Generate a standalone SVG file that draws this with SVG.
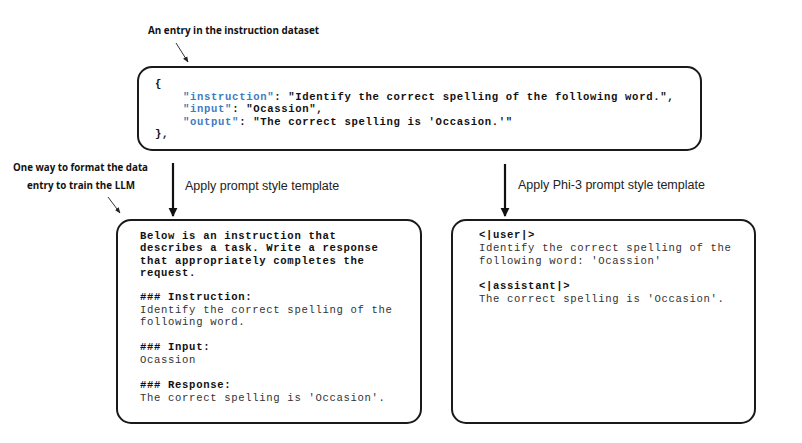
<svg xmlns="http://www.w3.org/2000/svg" width="802" height="443" viewBox="0 0 802 443">
<defs>
<marker id="big" viewBox="0 0 10 10" refX="9" refY="5" markerWidth="4" markerHeight="4.5" orient="auto" markerUnits="strokeWidth">
<path d="M0,0 L10,5 L0,10 z" fill="#111"/>
</marker>
<marker id="small" viewBox="0 0 10 10" refX="9" refY="5" markerWidth="6" markerHeight="6" orient="auto" markerUnits="strokeWidth">
<path d="M0,1 L10,5 L0,9 z" fill="#222"/>
</marker>
</defs>
<style>
.box{fill:#fff;stroke:#1a1a1a;stroke-width:2}
.mono{font-family:"Liberation Mono","Courier New",monospace;font-size:10.6px;letter-spacing:0.66px;fill:#333}
.b{font-weight:bold;fill:#111}
.r{font-weight:normal;fill:#333}
.key{fill:#3f7cc0;font-weight:bold}
.lbl{font-family:"Open Sans","Liberation Sans",sans-serif;font-weight:bold;font-size:11px;fill:#111}
.cap{font-family:"Liberation Sans",Arial,sans-serif;font-size:12.5px;fill:#222}
.conn{stroke:#111;stroke-width:2.2;fill:none}
.thin{stroke:#333;stroke-width:1;fill:none}
</style>
<rect width="802" height="443" fill="#fff"/>

<g id="label-entry">
<text class="lbl" x="148" y="34" textLength="171" lengthAdjust="spacingAndGlyphs">An entry in the instruction dataset</text>
</g>
<g id="label-format">
<text class="lbl"><tspan x="13" y="171" textLength="135" lengthAdjust="spacingAndGlyphs">One way to format the data</tspan><tspan x="27" y="189" textLength="108" lengthAdjust="spacingAndGlyphs">entry to train the LLM</tspan></text>
</g>

<g id="connectors">
<line class="thin" x1="176" y1="43" x2="188" y2="62" marker-end="url(#small)"/>
<line class="thin" x1="108" y1="197" x2="120" y2="213" marker-end="url(#small)"/>
<line class="conn" x1="173" y1="163" x2="173" y2="216" marker-end="url(#big)"/>
<line class="conn" x1="505" y1="164" x2="505" y2="216" marker-end="url(#big)"/>
<text class="cap" x="185" y="190">Apply prompt style template</text>
<text class="cap" x="518" y="189">Apply Phi-3 prompt style template</text>
</g>

<g id="entry">
<rect class="box" x="138" y="67" width="563" height="83" rx="14"/>
<text class="mono b"><tspan x="155" y="87">{</tspan><tspan x="183" y="99.5"><tspan class="key">"instruction"</tspan>: "Identify the correct spelling of the following word.",</tspan><tspan x="183" y="112"><tspan class="key">"input"</tspan>: "Ocassion",</tspan><tspan x="183" y="124.5"><tspan class="key">"output"</tspan>: "The correct spelling is 'Occasion.'"</tspan><tspan x="155" y="137">},</tspan></text>
</g>

<g id="alpaca">
<rect class="box" x="117" y="220" width="304" height="203" rx="14"/>
<text class="mono b"><tspan x="140" y="239">Below is an instruction that</tspan><tspan x="140" y="251.3">describes a task. Write a response</tspan><tspan x="140" y="263.6">that appropriately completes the</tspan><tspan x="140" y="276">request.</tspan><tspan x="140" y="300">### Instruction:</tspan><tspan class="r" x="140" y="312.5">Identify the correct spelling of the</tspan><tspan class="r" x="140" y="325">following word.</tspan><tspan x="140" y="350">### Input:</tspan><tspan class="r" x="140" y="362.5">Ocassion</tspan><tspan x="140" y="388">### Response:</tspan><tspan class="r" x="140" y="400.5">The correct spelling is 'Occasion'.</tspan></text>
</g>

<g id="phi3">
<rect class="box" x="452" y="220" width="303" height="203" rx="14"/>
<text class="mono b"><tspan x="479" y="238">&lt;|user|&gt;</tspan><tspan class="r" x="479" y="251">Identify the correct spelling of the</tspan><tspan class="r" x="479" y="263.5">following word: 'Ocassion'</tspan><tspan x="479" y="289">&lt;|assistant|&gt;</tspan><tspan class="r" x="479" y="301.5">The correct spelling is 'Occasion'.</tspan></text>
</g>
</svg>
